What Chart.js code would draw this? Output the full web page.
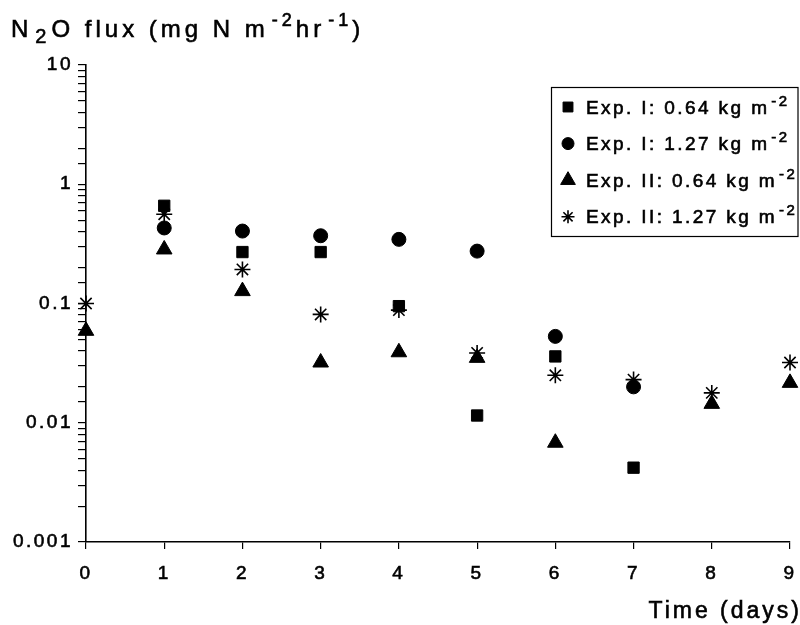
<!DOCTYPE html>
<html><head><meta charset="utf-8">
<script src="https://cdn.jsdelivr.net/npm/chart.js@4/dist/chart.umd.min.js"></script>
<style>html,body{margin:0;padding:0;background:#fff}#wrap{width:800px;height:625px;position:relative}</style>
</head><body><div id="wrap"><canvas id="c" width="800" height="625"></canvas></div>
<script>
// ---- data ----
const days = [0, 1, 2, 3, 4, 5, 6, 7, 8, 9];
const expI_064  = [null, 0.66, 0.27, 0.27, 0.095, 0.0115, 0.036, 0.0042, null, null];
const expI_127  = [null, 0.43, 0.405, 0.37, 0.345, 0.275, 0.053, 0.020, null, null];
const expII_064 = [0.059, 0.284, 0.127, 0.032, 0.039, 0.035, 0.0068, null, 0.0144, 0.0216];
const expII_127 = [0.1, 0.56, 0.193, 0.081, 0.088, 0.0385, 0.025, 0.023, 0.0178, 0.032];
const legendLabels = ['Exp. I: 0.64 kg m', 'Exp. I: 1.27 kg m', 'Exp. II: 0.64 kg m', 'Exp. II: 1.27 kg m'];
const yTickValues = [10, 1, 0.1, 0.01, 0.001];
const yTickLabels = ['10', '1', '0.1', '0.01', '0.001'];
const xTickLabels = ['0', '1', '2', '3', '4', '5', '6', '7', '8', '9'];

const FONT = '"Liberation Sans", Arial, Helvetica, sans-serif';

function toPoints(arr) {
  const out = [];
  arr.forEach((v, i) => { if (v !== null) out.push({ x: days[i], y: v }); });
  return out;
}

const styles = [
  { pointStyle: 'rect', radius: 8, legendRadius: 7, bw: 1 },
  { pointStyle: 'circle', radius: 7, legendRadius: 6, bw: 1 },
  { pointStyle: 'triangle', radius: 9, legendRadius: 8.5, bw: 1 },
  { pointStyle: 'star', radius: 8, legendRadius: 6.5, bw: 1.6 }
];
const seriesData = [expI_064, expI_127, expII_064, expII_127];

const datasets = seriesData.map((arr, i) => ({
  label: legendLabels[i],
  data: toPoints(arr),
  showLine: false,
  pointStyle: styles[i].pointStyle,
  pointRadius: styles[i].radius,
  pointHoverRadius: styles[i].radius,
  pointBorderWidth: styles[i].bw,
  backgroundColor: '#000',
  borderColor: '#000',
  clip: false
}));

function drawRich(ctx, x, y, segs, align, spacing) {
  ctx.save();
  ctx.fillStyle = '#000';
  ctx.strokeStyle = '#000';
  ctx.lineWidth = 0.6;
  ctx.textBaseline = 'alphabetic';
  ctx.textAlign = 'left';
  ctx.letterSpacing = spacing + 'px';
  let total = 0;
  segs.forEach(s => { ctx.font = s.size + 'px ' + FONT; total += (s.gap || 0) + ctx.measureText(s.t).width; });
  let cx = align === 'right' ? x - total : x;
  segs.forEach(s => {
    ctx.font = s.size + 'px ' + FONT;
    cx += (s.gap || 0);
    ctx.fillText(s.t, cx, y + (s.dy || 0));
    ctx.strokeText(s.t, cx, y + (s.dy || 0));
    cx += ctx.measureText(s.t).width;
  });
  ctx.restore();
}

function drawMarker(ctx, style, r, bw, x, y) {
  ctx.save();
  ctx.fillStyle = '#000'; ctx.strokeStyle = '#000'; ctx.lineWidth = bw;
  if (Chart.helpers && Chart.helpers.drawPoint) {
    Chart.helpers.drawPoint(ctx, { pointStyle: style, radius: r, borderWidth: bw, rotation: 0 }, x, y);
  }
  ctx.restore();
}

const decorPlugin = {
  id: 'decor',
  beforeDraw(chart) {
    chart.ctx.letterSpacing = '2.5px';
  },
  afterDraw(chart) {
    const ctx = chart.ctx;
    ctx.letterSpacing = '0px';
    // y-axis title
    drawRich(ctx, 11, 37, [
      { t: 'N', size: 24 },
      { t: '2', size: 20, dy: 6, gap: 3 },
      { t: 'O flux (mg N m', size: 24, gap: 1 },
      { t: '-2', size: 18, dy: -11, gap: 3 },
      { t: 'hr', size: 24 },
      { t: '-1', size: 18, dy: -11, gap: 3 },
      { t: ')', size: 24 }
    ], 'left', 4);
    // x-axis title
    drawRich(ctx, 802, 618, [{ t: 'Time (days)', size: 23 }], 'right', 3);
    // legend box
    const bx = 551.5, by = 87.5, bw = 246.5, bh = 149;
    ctx.save();
    ctx.fillStyle = '#fff';
    ctx.fillRect(bx, by, bw, bh);
    ctx.strokeStyle = '#000'; ctx.lineWidth = 1.2;
    ctx.strokeRect(bx, by, bw, bh);
    ctx.restore();
    legendLabels.forEach((lab, i) => {
      const cy = 107 + i * 36.6;
      drawMarker(ctx, styles[i].pointStyle, styles[i].legendRadius, styles[i].bw, 568, cy);
      drawRich(ctx, 586, cy + 6.5, [
        { t: lab, size: 19 },
        { t: '-2', size: 15, dy: -8, gap: 2 }
      ], 'left', 2.4);
    });
  }
};

new Chart(document.getElementById('c'), {
  type: 'scatter',
  data: { datasets },
  plugins: [decorPlugin],
  options: {
    responsive: false,
    animation: false,
    events: [],
    layout: { padding: { top: 65, right: 3, left: 0, bottom: 0 } },
    plugins: { legend: { display: false }, tooltip: { enabled: false }, title: { display: false } },
    scales: {
      x: {
        type: 'linear', min: 0, max: 9,
        afterFit(scale) { scale.height = 83; scale.paddingLeft = 0; scale.paddingRight = 0; },
        ticks: {
          stepSize: 1, autoSkip: false, maxRotation: 0, padding: 13,
          color: '#000', font: { family: FONT, size: 19 },
          textStrokeColor: '#000', textStrokeWidth: 0.6,
          callback: (v) => { const i = days.indexOf(v); return i >= 0 ? xTickLabels[i] : ''; }
        },
        grid: { display: true, drawOnChartArea: false, drawTicks: true, tickLength: 7, color: '#000', lineWidth: 1.2 },
        border: { display: true, color: '#000', width: 1.6 }
      },
      y: {
        type: 'logarithmic', min: 0.001, max: 10,
        afterFit(scale) { scale.width = 86; scale.paddingTop = 0; scale.paddingBottom = 0; },
        ticks: {
          autoSkip: false, padding: 5,
          color: '#000', font: { family: FONT, size: 19 },
          textStrokeColor: '#000', textStrokeWidth: 0.6,
          callback: (v) => {
            for (let i = 0; i < yTickValues.length; i++) {
              if (Math.abs(Math.log10(v) - Math.log10(yTickValues[i])) < 1e-6) return yTickLabels[i];
            }
            return '';
          }
        },
        grid: { display: true, drawOnChartArea: false, drawTicks: true, tickLength: 8, color: '#000', lineWidth: 1.2 },
        border: { display: true, color: '#000', width: 1.6 }
      }
    }
  }
});
</script>
</body></html>
